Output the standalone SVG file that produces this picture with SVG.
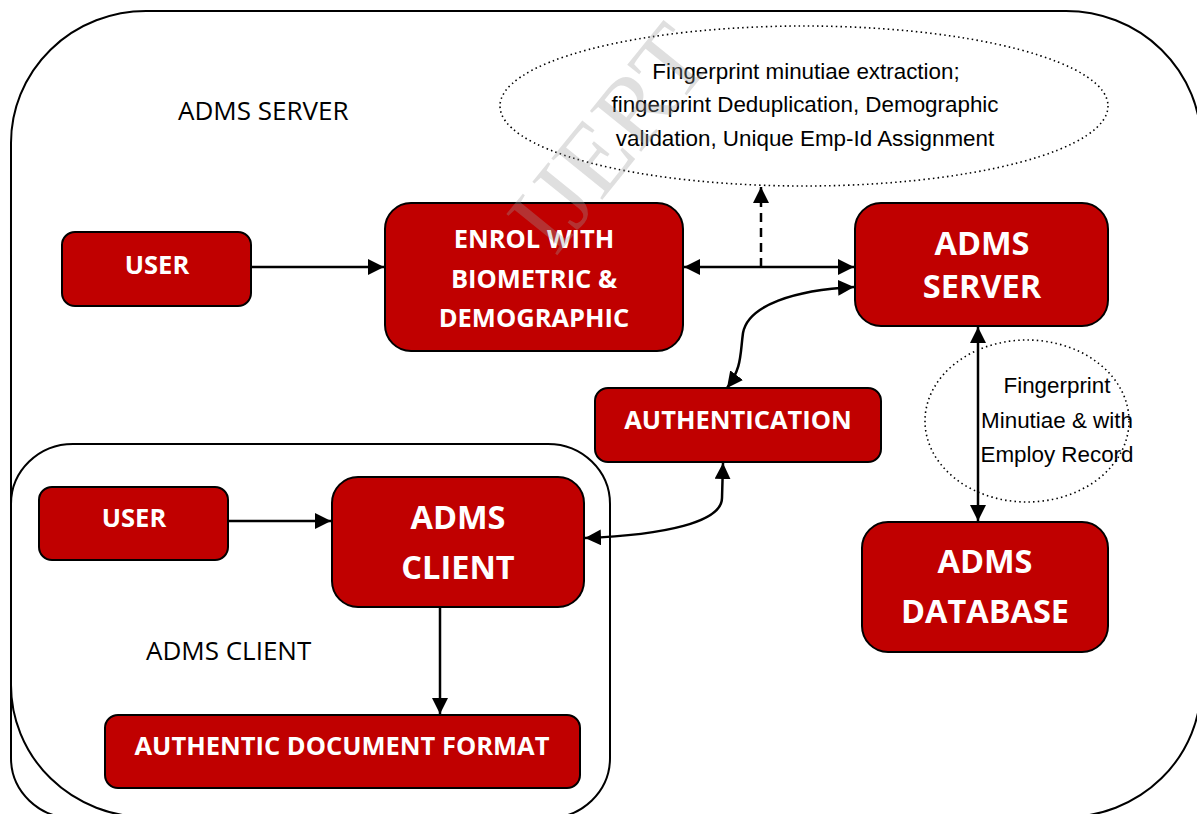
<svg xmlns="http://www.w3.org/2000/svg" width="1197" height="814" viewBox="0 0 1197 814">
  <defs>
    <marker id="arrow" viewBox="0 0 10 10" refX="10" refY="5" markerWidth="16" markerHeight="16" markerUnits="userSpaceOnUse" orient="auto-start-reverse">
      <path d="M0,0 L10,5 L0,10 Z" fill="#000"/>
    </marker>
    <style>
      .frame { fill: none; stroke: #000; stroke-width: 2; }
      .box { fill: #C00000; stroke: #000; stroke-width: 2; }
      .btxt { font-family: "Open Sans", Lato, sans-serif; font-weight: bold; fill: #fff; text-anchor: middle; }
      .s { font-size: 25.5px; }
      .l { font-size: 32.5px; }
      .cap { font-family: "Open Sans", Lato, sans-serif; font-size: 26px; fill: #000; }
      .note { fill: #fff; stroke: #000; stroke-width: 1.6; stroke-dasharray: 1.5 3.2; }
      .ntxt { font-family: "Liberation Sans", Arial, sans-serif; font-size: 22.4px; fill: #000; text-anchor: middle; }
      .conn { fill: none; stroke: #000; stroke-width: 2.5; }
    </style>
  </defs>

  <!-- outer server boundary and client boundary -->
  <rect class="frame" x="11" y="11" width="1190" height="806" rx="135" ry="132"/>
  <rect class="frame" x="11" y="444" width="599" height="374" rx="62" ry="60"/>
  <text class="cap" x="178" y="120">ADMS SERVER</text>
  <text class="cap" x="146" y="660">ADMS CLIENT</text>

  <!-- annotation ellipses -->
  <g id="note-processing">
    <ellipse class="note" cx="804" cy="106" rx="304" ry="80"/>
    <text class="ntxt" x="806" y="79">Fingerprint minutiae extraction;</text>
    <text class="ntxt" x="805" y="112">fingerprint Deduplication, Demographic</text>
    <text class="ntxt" x="805" y="146">validation, Unique Emp-Id Assignment</text>
  </g>
  <g id="note-record">
    <ellipse class="note" cx="1027" cy="421" rx="102" ry="81"/>
    <text class="ntxt" x="1057" y="393">Fingerprint</text>
    <text class="ntxt" x="1057" y="428">Minutiae &amp; with</text>
    <text class="ntxt" x="1057" y="462">Employ Record</text>
  </g>

  <!-- nodes -->
  <g id="user-server">
    <rect class="box" x="62" y="232" width="189" height="74" rx="13"/>
    <text class="btxt s" x="157" y="274">USER</text>
  </g>
  <g id="enrol">
    <rect class="box" x="385" y="203" width="298" height="148" rx="26"/>
    <text class="btxt s" x="534" y="248">ENROL WITH</text>
    <text class="btxt s" x="534" y="288">BIOMETRIC &amp;</text>
    <text class="btxt s" x="534" y="327">DEMOGRAPHIC</text>
  </g>
  <g id="adms-server">
    <rect class="box" x="855" y="203" width="253" height="123" rx="26"/>
    <text class="btxt l" x="982" y="255">ADMS</text>
    <text class="btxt l" x="982" y="298">SERVER</text>
  </g>
  <g id="authentication">
    <rect class="box" x="595" y="388" width="286" height="74" rx="13"/>
    <text class="btxt s" x="738" y="429">AUTHENTICATION</text>
  </g>
  <g id="user-client">
    <rect class="box" x="39" y="487" width="189" height="73" rx="13"/>
    <text class="btxt s" x="134" y="527">USER</text>
  </g>
  <g id="adms-client">
    <rect class="box" x="332" y="477" width="252" height="130" rx="26"/>
    <text class="btxt l" x="458" y="529">ADMS</text>
    <text class="btxt l" x="458" y="579">CLIENT</text>
  </g>
  <g id="document-format">
    <rect class="box" x="105" y="715" width="475" height="73" rx="13"/>
    <text class="btxt s" x="342" y="755">AUTHENTIC DOCUMENT FORMAT</text>
  </g>
  <g id="adms-database">
    <rect class="box" x="862" y="522" width="246" height="130" rx="26"/>
    <text class="btxt l" x="985" y="573">ADMS</text>
    <text class="btxt l" x="985" y="623">DATABASE</text>
  </g>

  <!-- connectors -->
  <g id="connectors">
    <path class="conn" d="M251,267 L384,267" marker-end="url(#arrow)"/>
    <path class="conn" d="M684,267 L854,267" marker-start="url(#arrow)" marker-end="url(#arrow)"/>
    <path class="conn" d="M761,267 L761,187" stroke-dasharray="9 6" marker-end="url(#arrow)"/>
    <path class="conn" d="M854,287 C795,290 748,305 743,333 C740,355 742,368 727,388" marker-start="url(#arrow)" marker-end="url(#arrow)"/>
    <path class="conn" d="M723,463 L722,498 C722,522 665,535 585,538" marker-start="url(#arrow)" marker-end="url(#arrow)"/>
    <path class="conn" d="M228,521 L331,521" marker-end="url(#arrow)"/>
    <path class="conn" d="M440,607 L440,714" marker-end="url(#arrow)"/>
    <path class="conn" d="M978,327 L978,521" marker-start="url(#arrow)" marker-end="url(#arrow)"/>
  </g>

  <!-- publisher watermark -->
  <text x="0" y="0" transform="translate(555,258) rotate(-51)" font-family="Liberation Serif, serif" font-size="100" fill="#9a9a9a" fill-opacity="0.32">IJERT</text>
</svg>
